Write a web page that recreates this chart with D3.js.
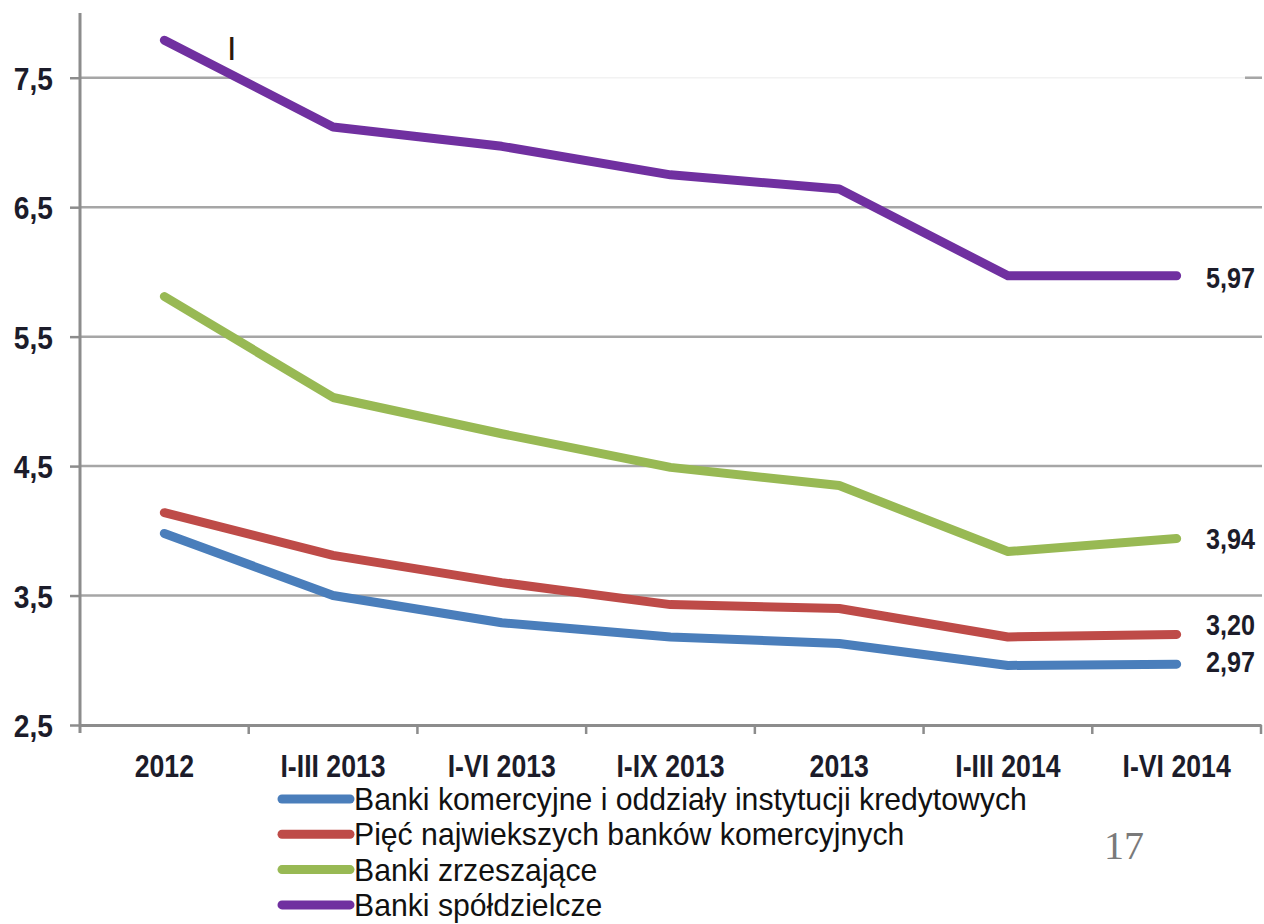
<html>
<head><meta charset="utf-8"></head>
<script src='https://d3js.org/d3.v7.min.js'></script>
<style>
body {margin:0; background:#fff;}
text {font-family: "Liberation Sans", Arial, sans-serif;}
</style>
<body onload='init()'>
<svg width=1264 height=924></svg>
<script>

// categories and series
const periods = ['2012','I-III 2013','I-VI 2013','I-IX 2013','2013','I-III 2014','I-VI 2014'];
const komercyjne = [3.98, 3.50, 3.29, 3.18, 3.13, 2.96, 2.97];
const piecNajw   = [4.14, 3.81, 3.60, 3.43, 3.40, 3.18, 3.20];
const zrzeszajace = [5.81, 5.03, 4.75, 4.49, 4.35, 3.84, 3.94];
const spoldzielcze = [7.79, 7.12, 6.97, 6.75, 6.64, 5.97, 5.97];
const seriesNames = ['Banki komercyjne i oddziały instytucji kredytowych',
	'Pięć najwiekszych banków komercyjnych', 'Banki zrzeszające', 'Banki spółdzielcze'];
const yTicks = [2.5, 3.5, 4.5, 5.5, 6.5, 7.5];
const colors = ['#4a7ebb', '#be4b48', '#98b954', '#7030a0'];

// narrow the text horizontally around its own anchor point
function squeeze(sel, s) {
	sel.attr('transform', function() {
		var t = d3.select(this);
		var x = +t.attr('x') || 0, y = +t.attr('y') || 0;
		return 'translate(' + x + ',' + y + ') scale(' + s + ',1) translate(' + (-x) + ',' + (-y) + ')';
	});
}

function init() {
	var svg = d3.select('svg');
	var allSeries = [komercyjne, piecNajw, zrzeszajace, spoldzielcze];

	var x = d3.scaleBand().domain(periods).range([80, 1261]).padding(0);
	var y = d3.scaleLinear().domain([2.5, 8.0]).range([725, 13]);
	var cx = function(p) { return x(p) + x.bandwidth()/2; };
	var fmt = function(v) { return d3.format('.1f')(v).replace('.', ','); };

	// gridlines
	svg.append('g').selectAll('line')
		.data(yTicks.filter(function(t){ return t > 2.5 && t < 7.5; }))
		.enter().append('line')
		.attr('x1', 80).attr('x2', 1262)
		.attr('y1', function(d){ return y(d); }).attr('y2', function(d){ return y(d); })
		.style('stroke', '#a6a6a6').style('stroke-width', 2.5);
	// top gridline (mostly faded in the source)
	svg.append('line').attr('x1', 80).attr('x2', 233).attr('y1', y(7.5)).attr('y2', y(7.5))
		.style('stroke', '#a6a6a6').style('stroke-width', 2.5);
	svg.append('line').attr('x1', 233).attr('x2', 1245).attr('y1', y(7.5)).attr('y2', y(7.5))
		.style('stroke', '#f2f2f2').style('stroke-width', 1.5);
	svg.append('line').attr('x1', 1245).attr('x2', 1262).attr('y1', y(7.5)).attr('y2', y(7.5))
		.style('stroke', '#a6a6a6').style('stroke-width', 2.5);

	// y axis
	var yAxis = svg.append('g').attr('transform', 'translate(80,0)')
		.call(d3.axisLeft(y).tickValues(yTicks).tickFormat(fmt).tickSize(10).tickPadding(17));
	yAxis.select('.domain').remove();
	yAxis.selectAll('.tick line').style('stroke', '#8c8c8c').style('stroke-width', 2.5);
	var yLab = yAxis.selectAll('.tick text').attr('dy', '0.36em')
		.style('font-size', '32px').style('font-weight', 'bold')
		.style('fill', '#1c1c2a').style('font-family', '"Liberation Sans", Arial, sans-serif');
	squeeze(yLab, 0.88);
	svg.append('line').attr('x1', 80).attr('x2', 80).attr('y1', y(8.0)).attr('y2', 733)
		.style('stroke', '#8c8c8c').style('stroke-width', 3);

	// x axis
	var xAxis = svg.append('g').attr('transform', 'translate(0,725)')
		.call(d3.axisBottom(x).tickSize(0).tickPadding(30));
	xAxis.select('.domain').style('stroke', '#8c8c8c').style('stroke-width', 3);
	var xLab = xAxis.selectAll('.tick text')
		.style('font-size', '31px').style('font-weight', 'bold')
		.style('fill', '#1c1c2a').style('font-family', '"Liberation Sans", Arial, sans-serif');
	squeeze(xLab, 0.86);
	svg.append('g').selectAll('line').data(periods.slice(1).concat(['end']))
		.enter().append('line')
		.attr('x1', function(d){ return d === 'end' ? 1261 : x(d); })
		.attr('x2', function(d){ return d === 'end' ? 1261 : x(d); })
		.attr('y1', 725).attr('y2', 734)
		.style('stroke', '#8c8c8c').style('stroke-width', 2.5);

	// lines
	var line = d3.line().x(function(d, i){ return cx(periods[i]); }).y(function(d){ return y(d); });
	svg.append('g').selectAll('path').data(allSeries).enter().append('path')
		.attr('d', line)
		.style('fill', 'none')
		.style('stroke', function(d, i){ return colors[i]; })
		.style('stroke-width', 9)
		.style('stroke-linecap', 'round')
		.style('stroke-linejoin', 'round');

	// end labels
	var labelDy = [-3, -10, 0, 1];
	var endLab = svg.append('g').selectAll('text').data(allSeries).enter().append('text')
		.attr('x', 1206)
		.attr('y', function(d, i){ return y(d[d.length-1]) + labelDy[i]; })
		.attr('dy', '0.36em')
		.style('font-size', '30px').style('font-weight', 'bold').style('fill', '#1c1c2a')
		.text(function(d){ return d3.format('.2f')(d[d.length-1]).replace('.', ','); });
	squeeze(endLab, 0.84);

	// stray mark from the source
	svg.append('text').attr('x', 227).attr('y', 60)
		.style('font-size', '34px').style('fill', '#2a1a0a').text('I');

	// legend
	var legend = svg.append('g').selectAll('g').data(seriesNames).enter().append('g')
		.attr('transform', function(d, i){ return 'translate(0,' + (799 + i*35.3) + ')'; });
	legend.append('line').attr('x1', 282).attr('x2', 350).attr('y1', 0).attr('y2', 0)
		.style('stroke', function(d, i){ return colors[i]; })
		.style('stroke-width', 9).style('stroke-linecap', 'round');
	var legLab = legend.append('text').attr('x', 354).attr('y', 0).attr('dy', '0.36em')
		.style('font-size', '31px').style('fill', '#111')
		.text(function(d){ return d; });
	var w0 = legLab.node().getComputedTextLength();
	squeeze(legLab, 673 / w0);

	// page number
	svg.append('text').attr('x', 1104).attr('y', 859)
		.style('font-family', '"Liberation Serif", serif').style('font-size', '40px')
		.style('fill', '#7a7a7a').text('17');
}

</script>
</body>
</html>
